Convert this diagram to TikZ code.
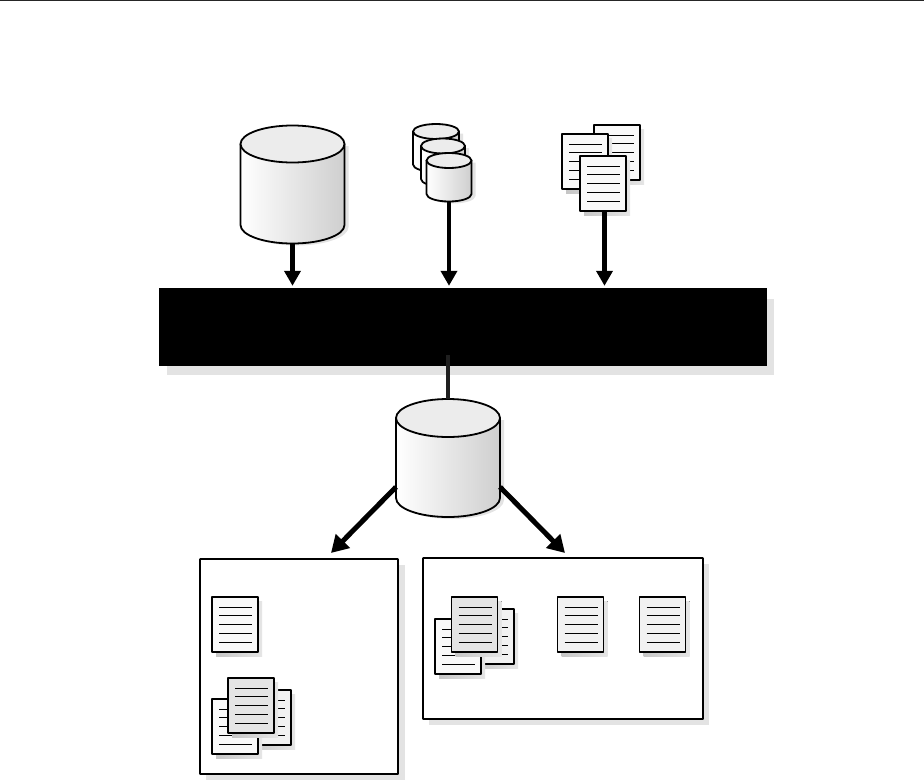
\documentclass[tikz,border=0pt]{standalone}
\usepackage{amsmath,amssymb,amsfonts}
\usetikzlibrary{arrows.meta}

\definecolor{shadowgray}{HTML}{E3E3E3}
\definecolor{sheetwhite}{HTML}{F9F9F9}
\definecolor{sheetpale}{HTML}{F1F1F1}
\definecolor{sheetgray}{HTML}{E4E4E4}

\tikzset{
  flow/.style={line width=4.2pt, -{Triangle[width=16pt,length=15pt]}},
  slant/.style={line width=5pt, -{Triangle[width=19pt,length=17pt]}},
  panel/.style={draw, line width=1.9pt, fill=white, inner sep=0pt, rounded corners=0.5pt},
  panelshadow/.style={fill=shadowgray},
  drumside/.style={draw, line width=1.8pt, left color=white, middle color=gray!14, right color=gray!38},
  drumtop/.style={draw, line width=1.8pt, fill=gray!15},
  sheetshadow/.style={left color=gray!45, right color=gray!20},
}

% x y fill
\newcommand{\docsheet}[4][line width=1.9pt]{
  \begin{scope}[shift={(#2,#3)}]
    \fill[sheetshadow] (4,4) rectangle (50,59);
    \draw[#1, fill=#4] (0,0) rectangle (46,55);
    \foreach \ypos in {10,18,27,36,45}
      \draw[line width=1pt] (7,\ypos) -- (40,\ypos);
  \end{scope}
}

% name cx cy rx ry side
\newcommand{\drum}[6]{
  \begin{scope}[shift={(#2,#3)}]
    \path[fill=shadowgray] (-#4+4,2) -- (-#4+4,#6+2) arc[start angle=180,end angle=360,x radius=#4 pt,y radius=#5 pt] -- (#4+4,2) -- cycle;
    \path[drumside] (-#4,0) -- (-#4,#6) arc[start angle=180,end angle=360,x radius=#4 pt,y radius=#5 pt] -- (#4,0) -- cycle;
    \path[drumtop] (0,0) ellipse[x radius=#4 pt,y radius=#5 pt];
    \coordinate (#1) at (0,#6+#5);
    \coordinate (#1top) at (0,-#5);
    \coordinate (#1left) at (-#4,#6-11);
    \coordinate (#1right) at (#4,#6-11);
  \end{scope}
}

\begin{document}
\begin{tikzpicture}[x=1pt, y=-1pt, line join=round]
\useasboundingbox (0,0) rectangle (924,780);
\draw[line width=1pt, black!85] (0,0.7) -- (924,0.7);

% shadows under the bar and the panels
\fill[panelshadow] (167,299) rectangle (774,375);
\fill[panelshadow] (206,565) rectangle (405,780);
\fill[panelshadow] (429,564) rectangle (709,725);

\node[fill=black, inner sep=0pt, minimum width=608pt, minimum height=78pt] (bar) at (463,327) {};
\node[panel, minimum width=198pt, minimum height=215pt] (panelA) at (299,666.5) {};
\node[panel, minimum width=280pt, minimum height=161pt] (panelB) at (563,638.5) {};

% sources
\drum{drumA}{292.5}{144}{52}{18.5}{81}
\drum{smallA}{436}{131.5}{23}{7.5}{33}
\drum{smallB}{443}{146}{22}{7.5}{33}
\drum{smallC}{449}{160.5}{22.5}{7.5}{33.5}
\drum{drumB}{448}{418}{52}{19}{80}

\docsheet{594}{125}{sheetwhite}
\docsheet{562}{134}{sheetwhite}
\docsheet{580}{156}{sheetwhite}
\coordinate (sheets) at (604.5,211);

% first panel
\docsheet{212}{597}{sheetwhite}
\docsheet{245}{690}{sheetpale}
\docsheet{212}{699}{sheetwhite}
\docsheet{228}{678}{sheetgray}

% second panel
\docsheet{468}{609}{sheetpale}
\docsheet{435}{619}{sheetwhite}
\docsheet[line width=1.2pt]{451.5}{597}{sheetgray}
\docsheet[line width=1.2pt]{557.5}{597}{sheetpale}
\docsheet[line width=1.2pt]{639.5}{597}{sheetpale}

\coordinate (tipA) at (331,553);
\coordinate (tipB) at (565,553);

\draw[flow, shorten >=2pt] (drumA) -- (drumA |- bar.north);
\draw[flow, shorten >=2pt] (smallC) -- (smallC |- bar.north);
\draw[flow, shorten >=2pt] (sheets) -- (sheets |- bar.north);
\draw[line width=4pt, black!88] (drumBtop) -- ++(0,-44);
\draw[slant] (drumBleft) -- (tipA);
\draw[slant] (drumBright) -- (tipB);
\end{tikzpicture}
\end{document}
